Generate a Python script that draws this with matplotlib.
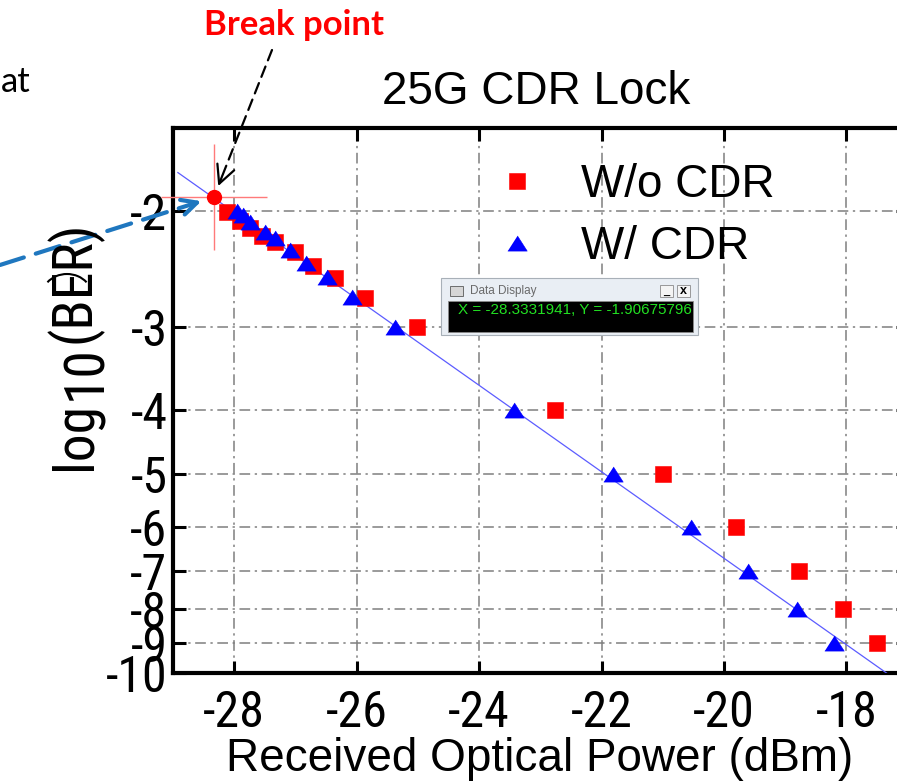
import numpy as np
import matplotlib
matplotlib.use('Agg')
import matplotlib.pyplot as plt
from matplotlib import font_manager as fm
from matplotlib.patches import Rectangle, Arc, FancyArrowPatch
from matplotlib.transforms import IdentityTransform

# Dados (log10(BER) vs potencia optica recebida)
wo_cdr_x = [-28.11, -27.91, -27.75, -27.54, -27.34, -27.01, -26.72, -26.36, -25.87,
            -25.02, -22.76, -21.00, -19.81, -18.78, -18.06, -17.50]
wo_cdr_y = [-2.01, -2.07, -2.12, -2.18, -2.23, -2.31, -2.42, -2.53, -2.71,
            -3, -4, -5, -6, -7, -8, -9]
w_cdr_x = [-27.96, -27.86, -27.75, -27.50, -27.34, -27.09, -26.82, -26.49, -26.08,
           -25.38, -23.43, -21.82, -20.54, -19.61, -18.81, -18.20]
w_cdr_y = [-2.00, -2.03, -2.08, -2.15, -2.20, -2.29, -2.40, -2.52, -2.70,
           -3, -4, -5, -6, -7, -8, -9]
fit_x = [-28.92, -17.34]
fit_y = [-1.75, -10]
break_x = -28.3331941
break_y = -1.90675796
x_ticks = [-28, -26, -24, -22, -20, -18]
y_ticks = [-2, -3, -4, -5, -6, -7, -8, -9, -10]

W, H = 897, 781
ARIAL = ['Liberation Sans', 'DejaVu Sans']
plt.rcParams['axes.unicode_minus'] = False


def fonte_estreita():
    # procura uma fonte estreita (tipo Arial Narrow); senao usa Arial menor
    nomes = {f.name for f in fm.fontManager.ttflist}
    for n in ['Liberation Sans Narrow', 'Arial Narrow', 'Roboto Condensed',
              'Nimbus Sans Narrow', 'Open Sans Condensed', 'Noto Sans Display']:
        if n in nomes:
            return {'family': n}, 1.0
    for f in fm.fontManager.ttflist:
        if f.name in ('DejaVu Sans', 'Noto Sans', 'Open Sans', 'Roboto') and \
                str(f.stretch) in ('condensed', 'semi-condensed', '87.5', '75'):
            return {'family': f.name, 'stretch': 'condensed'}, 1.0
    return {'family': 'Liberation Sans'}, 0.9


NARROW, ESC = fonte_estreita()


def fx(px):
    return px / W


def fy(py):
    return 1 - py / H


def disp(px, py):
    # pixel (origem no topo) -> coordenadas de tela
    return (px, H - py)


def fwd(v):
    return -np.log10(np.clip(-np.asarray(v, dtype=float), 1e-9, None))


def inv(t):
    return -10.0 ** (-np.asarray(t, dtype=float))


fig = plt.figure(figsize=(W / 100, H / 100), dpi=100)
ax = fig.add_axes([fx(173), fy(673.3), fx(907.7) - fx(173), fy(128.3) - fy(673.3)])
ax.set_yscale('function', functions=(fwd, inv))
ax.set_xlim(-29, -17)
ax.set_ylim(-10, -1.5)

tri = [(-1, -0.78), (1, -0.78), (0, 0.78)]
ax.plot(fit_x, fit_y, color='#5c5cff', lw=0.9, zorder=3)
ax.plot(wo_cdr_x, wo_cdr_y, ls='none', marker='s', ms=11, color='#ff0000',
        mec='#ff0000', mew=0.4, label='W/o CDR', zorder=4)
ax.plot(w_cdr_x, w_cdr_y, ls='none', marker=tri, ms=14, color='#0000ff',
        mec='#0000ff', mew=0.4, label='W/ CDR', zorder=5)

# ponto de quebra com a mira
ax.plot(break_x, break_y, marker='+', ms=76, mew=1.0, color='#ff7a7a', ls='none',
        clip_on=False, zorder=6)
ax.plot(break_x, break_y, marker='o', ms=10, color='#ff0000', ls='none',
        clip_on=False, zorder=7)

ax.set_xticks(x_ticks)
ax.set_xticklabels([str(v) for v in x_ticks])
ax.set_yticks(y_ticks)
ax.set_yticklabels([str(v) for v in y_ticks])
ax.minorticks_off()
ax.tick_params(direction='in', length=9, width=2.2, top=True, right=True,
               labelsize=36 * ESC, color='black')
ax.tick_params(axis='x', pad=11)
ax.tick_params(axis='y', pad=4)
for lab in ax.get_xticklabels() + ax.get_yticklabels():
    lab.set(**NARROW)
for s in ax.spines.values():
    s.set_linewidth(3)
ax.grid(True, color='#7f7f7f', linestyle=(0, (7, 3, 1.5, 3)), linewidth=1.1)

xl = ax.set_xlabel('Received Optical Power (dBm)', fontsize=33, family=ARIAL)
xl.set_va('baseline')
ax.xaxis.set_label_coords(fx(540), fy(771), transform=fig.transFigure)

leg = ax.legend(loc='upper left', bbox_to_anchor=(fx(494), fy(163)),
                bbox_transform=fig.transFigure, frameon=False,
                prop={'family': ARIAL, 'size': 33}, handlelength=1.0,
                handletextpad=0.9, labelspacing=0.4, borderpad=0, borderaxespad=0)

# titulo
fig.text(fx(536), fy(92), '25G CDR Lock', fontsize=33, family=ARIAL,
         ha='center', va='center')

# rotulo do eixo y montado em partes (subscrito grande como no original)
r = fig.canvas.get_renderer()
t1 = fig.text(fx(90), fy(470), 'log', rotation=90, rotation_mode='anchor',
              ha='left', va='baseline', fontsize=40 * ESC, **NARROW)
bb = t1.get_window_extent(renderer=r)
t2 = fig.text(fx(101), (bb.y1 + 2) / H, '10', rotation=90, rotation_mode='anchor',
              ha='left', va='baseline', fontsize=40 * ESC, **NARROW)
bb2 = t2.get_window_extent(renderer=r)
fig.text(fx(90), (bb2.y1 + 2) / H, '(BER)', rotation=90, rotation_mode='anchor',
         ha='left', va='baseline', fontsize=40 * ESC, **NARROW)

# anotacoes
fig.text(fx(294), fy(35), 'Break point', fontsize=25, fontweight='bold',
         family=['Lato', 'DejaVu Sans'], color='#ff0000', ha='center', va='baseline')
fig.text(fx(31), fy(92), 'at', fontsize=25, family=['Lato', 'DejaVu Sans'],
         color='black', ha='right', va='baseline')
fig.add_artist(Arc(disp(67, 296), 50, 44, theta1=35, theta2=145,
                   transform=IdentityTransform(), lw=1.5, color='black'))

tip = ax.transData.transform((break_x, break_y))


def seta(start, cor, lw, dashes, shrink, head):
    sx, sy = start
    d = np.array([tip[0] - sx, tip[1] - sy])
    n = d / np.hypot(*d)
    end = np.array(tip) - n * shrink
    mid = end - n * 10
    fig.add_artist(FancyArrowPatch((sx, sy), tuple(mid), arrowstyle='-',
                                   linestyle=(0, dashes), lw=lw, color=cor,
                                   transform=IdentityTransform(),
                                   shrinkA=0, shrinkB=0))
    fig.add_artist(FancyArrowPatch(tuple(mid), tuple(end),
                                   arrowstyle='->,head_length=%s,head_width=%s' % head,
                                   lw=lw, color=cor, transform=IdentityTransform(),
                                   shrinkA=0, shrinkB=0, mutation_scale=10))


seta(disp(272, 50), 'black', 1.6, (5, 3), 12, (1.3, 0.65))
seta(disp(0, 265), '#1f77bf', 3.0, (6, 3), 13, (1.1, 0.55))

# janela "Data Display"
def caixa(x0, y0, x1, y1, **kw):
    fig.add_artist(Rectangle((fx(x0), fy(y1)), (x1 - x0) / W, (y1 - y0) / H,
                             transform=fig.transFigure, **kw))


caixa(441, 278, 698, 335, facecolor='#e9eef4', edgecolor='#a8b0b8', lw=0.8, zorder=10)
caixa(448, 300.5, 693, 331.5, facecolor='black', edgecolor='#8a8a8a', lw=0.6, zorder=11)
caixa(450, 286, 463, 296, facecolor='#d6d6d6', edgecolor='#5a5a5a', lw=0.6, zorder=11)
caixa(660, 285, 673, 297, facecolor='#f4f4f4', edgecolor='#8a8a8a', lw=0.6, zorder=11)
caixa(677, 285, 690, 297, facecolor='#f4f4f4', edgecolor='#8a8a8a', lw=0.6, zorder=11)
fig.text(fx(470), fy(291), 'Data Display', fontsize=8.5, family=ARIAL,
         color='#6a6a6a', ha='left', va='center', zorder=12)
fig.text(fx(666.5), fy(292), '_', fontsize=8, family=ARIAL, fontweight='bold',
         ha='center', va='center', zorder=12)
fig.text(fx(683.5), fy(291), 'x', fontsize=9, family=ARIAL, fontweight='bold',
         ha='center', va='center', zorder=12)
fig.text(fx(458), fy(309.5), 'X = -28.3331941, Y = -1.90675796', fontsize=11,
         family=ARIAL, color='#22e022', ha='left', va='center', zorder=12)

fig.savefig('out.png', dpi=100)
plt.close(fig)
